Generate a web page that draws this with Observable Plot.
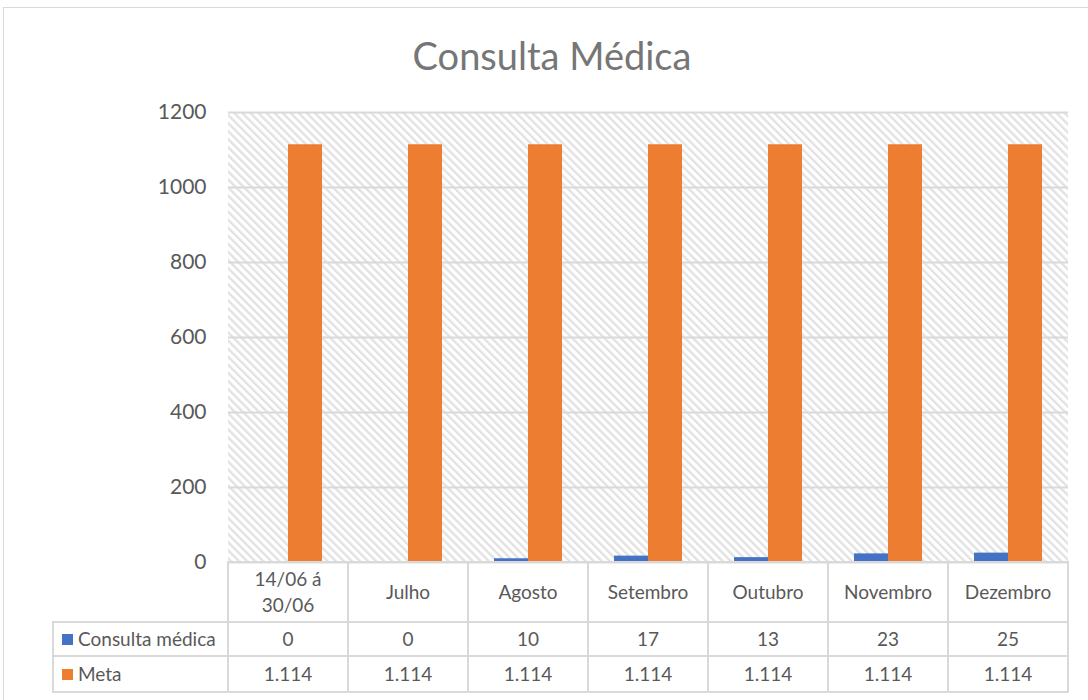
<!DOCTYPE html>
<html><head><meta charset="utf-8">
<script src="https://cdn.jsdelivr.net/npm/d3@7"></script>
<script src="https://cdn.jsdelivr.net/npm/@observablehq/plot@0.6"></script>
<style>
body{margin:0;background:#fff;font-family:Lato,"Noto Sans",sans-serif;}
#chart{position:relative;width:1088px;height:700px;overflow:hidden;background:#fff}
#frame{position:absolute;left:3px;top:7px;width:1200px;height:800px;border:1.5px solid #d9d9d9;box-sizing:border-box}
#title{position:absolute;top:33px;left:3px;width:1098px;text-align:center;font-size:38px;color:#767676;line-height:44px}
#plot{position:absolute;left:0;top:90px}
.cell{position:absolute;box-sizing:border-box;border:2px solid #d9d9d9;display:flex;align-items:center;justify-content:center;text-align:center;color:#595959;font-size:19px;white-space:pre-line;line-height:26px}
.lab{justify-content:flex-start;padding-left:8px}
.sw{display:inline-block;width:11px;height:11px;margin-right:5px}
</style></head>
<body><div id="chart"><div id="frame"></div><div id="title">Consulta Médica</div><div id="plot"></div></div>
<script>
const months = ["14/06 á\n30/06","Julho","Agosto","Setembro","Outubro","Novembro","Dezembro"];
const consulta = [0,0,10,17,13,23,25];
const meta = [1114,1114,1114,1114,1114,1114,1114];
const seriesNames = ["Consulta médica","Meta"];
const seriesColors = ["#4472C4","#ED7D31"];
const yTicks = [0,200,400,600,800,1000,1200];

const data = months.map((m,i)=>({month:m, consulta:consulta[i], meta:meta[i]}));

const plot = Plot.plot({
  width:1088, height:500,
  marginTop:22, marginBottom:28, marginLeft:228, marginRight:20,
  style:{fontFamily:'Lato,"Noto Sans",sans-serif', color:"#595959", background:"transparent", overflow:"visible"},
  x:{domain:months, padding:0, axis:null},
  y:{domain:[0,1200]},
  marks:[
    Plot.gridY(yTicks,{stroke:"#d9d9d9", strokeOpacity:1, strokeWidth:2}),
    Plot.axisY(yTicks,{tickSize:0, tickPadding:22, fontSize:21, tickFormat:d=>String(d)}),
    Plot.barY(data,{x:"month", y:"consulta", fill:seriesColors[0], insetLeft:26, insetRight:60}),
    Plot.barY(data,{x:"month", y:"meta", fill:seriesColors[1], insetLeft:60, insetRight:26})
  ]
});
document.getElementById("plot").appendChild(plot);

// hatched plot background
const svg = d3.select(plot);
const defs = svg.insert("defs",":first-child");
const pat = defs.append("pattern").attr("id","hatch").attr("patternUnits","userSpaceOnUse")
  .attr("width",5.7).attr("height",5.7).attr("patternTransform","rotate(-45)");
pat.append("rect").attr("width",5.7).attr("height",5.7).attr("fill","#fff");
pat.append("rect").attr("width",2.3).attr("height",5.7).attr("fill","#e1e1e1");
const xs = plot.scale("x"), ys = plot.scale("y");
const x0 = xs.range[0], x1 = xs.range[1];
const yTop = ys.apply(1200), yBot = ys.apply(0);
svg.insert("rect","defs + *").attr("x",x0).attr("y",yTop).attr("width",x1-x0).attr("height",yBot-yTop).attr("fill","url(#hatch)");

// data table below the chart
const chart = document.getElementById("chart");
const top0 = 90 + yBot;
const rowH = [60,34,36];
const labelLeft = 53;
function cell(x,y,w,h,html,cls){
  const d = document.createElement("div");
  d.className = "cell" + (cls?" "+cls:"");
  d.style.left = (x-1)+"px"; d.style.top = (y-1)+"px";
  d.style.width = (w+2)+"px"; d.style.height = (h+2)+"px";
  d.innerHTML = html; chart.appendChild(d);
}
const fmt = d3.formatLocale({decimal:",",thousands:".",grouping:[3],currency:["R$",""]}).format(",d");
let y = top0;
months.forEach(m=>cell(xs.apply(m), y, xs.bandwidth, rowH[0], m));
y += rowH[0];
const rows = [consulta, meta];
rows.forEach((vals,r)=>{
  cell(labelLeft, y, x0-labelLeft, rowH[r+1], `<span class="sw" style="background:${seriesColors[r]}"></span>${seriesNames[r]}`, "lab");
  months.forEach((m,i)=>cell(xs.apply(m), y, xs.bandwidth, rowH[r+1], fmt(vals[i])));
  y += rowH[r+1];
});
</script></body></html>
